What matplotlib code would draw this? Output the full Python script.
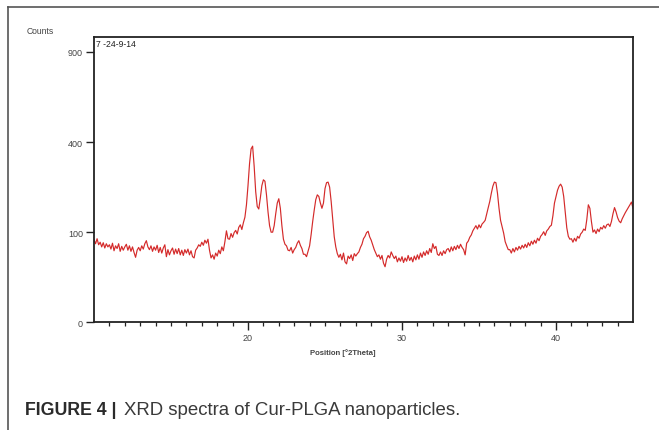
import numpy as np
import matplotlib
matplotlib.use("Agg")
import matplotlib.pyplot as plt
from matplotlib.lines import Line2D

plt.rcParams["font.family"] = ["Liberation Sans", "DejaVu Sans"]

# ---- data ----
x_start = 10.0
x_step = 0.1
counts = [
    # 10.0 - 10.9
    84, 76, 86, 74, 79, 70, 78, 68, 76, 70,
    # 11
    74, 66, 77, 63, 72, 67, 76, 62, 71, 64,
    # 12
    70, 75, 64, 72, 62, 70, 60, 52, 64, 69,
    # 13
    63, 72, 66, 76, 82, 70, 65, 72, 62, 70,
    # 14
    64, 73, 60, 69, 59, 68, 74, 53, 65, 56,
    # 15
    63, 68, 57, 66, 58, 67, 56, 64, 55, 65,
    # 16
    59, 66, 56, 63, 53, 51, 64, 68, 74, 71,
    # 17
    79, 73, 83, 77, 85, 64, 51, 56, 49, 59,
    # 18
    54, 64, 58, 70, 63, 80, 103, 86, 85, 97,
    # 19
    89, 99, 104, 96, 111, 117, 106, 122, 136, 170,
    # 20
    230, 310, 370, 382, 300, 210, 165, 158, 190, 230,
    # 21
    250, 245, 200, 150, 115, 100, 100, 115, 145, 175,
    # 22
    188, 160, 115, 85, 75, 72, 64, 63, 69, 59,
    # 23
    65, 69, 77, 82, 73, 67, 57, 57, 53, 62,
    # 24
    72, 95, 125, 155, 185, 200, 195, 175, 160, 175,
    # 25
    220, 240, 242, 225, 180, 130, 90, 70, 58, 52,
    # 26
    57, 48, 59, 45, 42, 54, 50, 56, 47, 58,
    # 27
    54, 58, 61, 69, 75, 86, 91, 99, 102, 90,
    # 28
    83, 74, 65, 59, 53, 56, 49, 55, 43, 38,
    # 29
    49, 55, 51, 61, 55, 50, 54, 45, 51, 46,
    # 30
    53, 44, 51, 46, 55, 47, 52, 45, 54, 48,
    # 31
    56, 49, 59, 52, 61, 55, 63, 57, 67, 60,
    # 32
    76, 67, 71, 57, 55, 61, 55, 63, 58, 65,
    # 33
    67, 61, 70, 63, 71, 65, 73, 67, 75, 69,
    # 34
    65, 56, 77, 81, 89, 94, 103, 109, 115, 107,
    # 35
    117, 110, 119, 123, 128, 145, 162, 180, 205, 228,
    # 36
    242, 240, 205, 160, 128, 112, 98, 80, 72, 65,
    # 37
    65, 59, 67, 61, 69, 64, 71, 66, 73, 68,
    # 38
    75, 69, 78, 72, 81, 75, 83, 77, 87, 82,
    # 39
    91, 95, 101, 93, 103, 107, 113, 116, 140, 175,
    # 40
    195, 215, 228, 235, 225, 195, 150, 110, 91, 85,
    # 41
    86, 79, 87, 81, 91, 87, 96, 100, 107, 104,
    # 42
    130, 170, 160, 125, 100, 105, 97, 107, 101, 111,
    # 43
    107, 115, 109, 117, 119, 113, 125, 145, 162, 150,
    # 44
    135, 126, 122, 132, 140, 148, 155, 162, 170, 178,
    # 45
    160,
]
y_ticks = [0, 100, 400, 900]
x_major = [20, 30, 40]
sample_label = "7 -24-9-14"

positions = x_start + x_step * np.arange(len(counts))

# ---- figure ----
W, H = 659, 431
fig = plt.figure(figsize=(W / 100, H / 100), dpi=100)
fig.patch.set_facecolor("white")

ax = fig.add_axes([94 / W, 1 - 323.3 / H, (633 - 94) / W, (323.3 - 38.3) / H])

fwd = lambda v: np.sqrt(np.clip(v, 0, None))
inv = lambda v: np.square(v)
ax.set_yscale("function", functions=(fwd, inv))

ax.plot(positions, counts, color="#d42a2a", lw=0.85)

ax.set_xlim(10, 45)
ax.set_ylim(0, 1000)
ax.set_yticks(y_ticks)
ax.set_yticklabels([str(v) for v in y_ticks])
ax.set_xticks(x_major)
ax.set_xticklabels([str(v) for v in x_major])
ax.set_xticks(np.arange(11, 45, 1), minor=True)
ax.yaxis.set_minor_locator(matplotlib.ticker.NullLocator())

for s in ax.spines.values():
    s.set_color("#222222")
    s.set_linewidth(1.3)

ax.tick_params(axis="both", which="major", direction="out", length=6, width=1.0,
               colors="#222222", labelsize=6.5, labelcolor="#444444", pad=2)
ax.tick_params(axis="x", which="minor", direction="out", length=3, width=0.9,
               colors="#222222")

ax.text(0.004, 0.995, sample_label, transform=ax.transAxes, ha="left", va="top",
        fontsize=6.2, color="#222222")

fig.text(27 / W, 1 - 32 / H, "Counts", ha="left", va="center", fontsize=6.2,
         color="#444444")
fig.text(310 / W, 1 - 353 / H, "Position [°2Theta]", ha="left", va="center",
         fontsize=5.6, fontweight="bold", color="#444444")

# outer frame of the figure panel
fig.add_artist(Line2D([8 / W, 1.0], [1 - 8 / H, 1 - 8 / H], transform=fig.transFigure,
                      color="#555555", lw=1.2))
fig.add_artist(Line2D([8 / W, 8 / W], [0.0, 1 - 8 / H], transform=fig.transFigure,
                      color="#555555", lw=1.2))

# caption
fig.text(25 / W, 1 - 411 / H, "FIGURE 4 |", ha="left", va="center",
         fontsize=12.8, fontweight="bold", color="#2b2b2b")
fig.text(124 / W, 1 - 411 / H, "XRD spectra of Cur-PLGA nanoparticles.",
         ha="left", va="center", fontsize=13.4, color="#3a3a3a")

fig.savefig("out.png", dpi=100)
